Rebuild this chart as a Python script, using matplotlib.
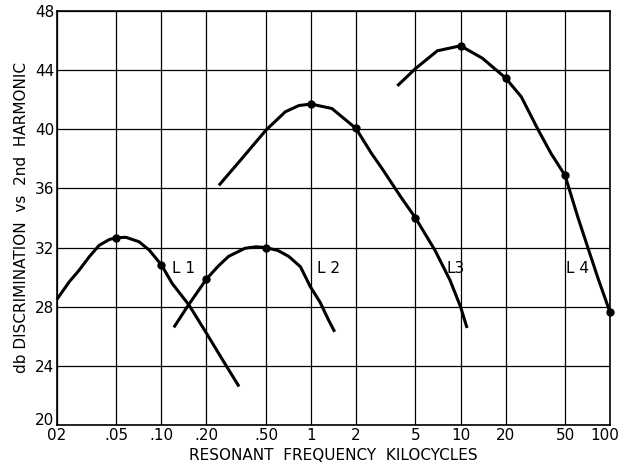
import matplotlib
matplotlib.use('Agg')
import matplotlib.pyplot as plt
import matplotlib.transforms as mtransforms

# curves (freq in kc, db)
l1_f = [0.02, 0.0242, 0.0282, 0.0329, 0.0383, 0.045, 0.05, 0.0578, 0.0708, 0.0827,
        0.10, 0.1177, 0.153, 0.2, 0.26, 0.33]
l1_db = [28.5, 29.69, 30.48, 31.38, 32.15, 32.55, 32.66, 32.69, 32.39, 31.83,
         30.82, 29.58, 28.1, 26.2, 24.3, 22.6]

l2_f = [0.121, 0.15, 0.2, 0.24, 0.281, 0.362, 0.43, 0.5, 0.6, 0.71, 0.85, 0.99, 1.15, 1.31, 1.44]
l2_db = [26.6, 28.05, 29.87, 30.75, 31.4, 31.95, 32.05, 31.99, 31.8, 31.4, 30.7, 29.35, 28.3, 27.1, 26.3]

l3_f = [0.242, 0.346, 0.5, 0.674, 0.83, 1.0, 1.38, 2.0, 2.54, 2.96, 4.0, 5.0, 6.76, 8.5, 10.0, 11.06]
l3_db = [36.2, 38.03, 39.94, 41.18, 41.6, 41.7, 41.4, 40.05, 38.36, 37.4, 35.4, 34.0, 31.8, 29.8, 28.0, 26.56]

l4_f = [3.78, 5.0, 7.0, 10.0, 14.0, 20.0, 25.5, 32.9, 40.3, 50.0, 60.8, 70.8, 82.6, 100.0]
l4_db = [42.93, 44.1, 45.3, 45.64, 44.8, 43.47, 42.19, 40.0, 38.36, 36.88, 34.08, 32.05, 30.0, 27.62]

dot_f = [0.05, 0.10, 0.2, 0.5, 1.0, 2.0, 5.0, 10.0, 20.0, 50.0, 100.0]
dot_db = [32.66, 30.82, 29.87, 31.99, 41.7, 40.05, 34.0, 45.64, 43.47, 36.88, 27.62]

labels = ['L 1', 'L 2', 'L3', 'L 4']
label_f = [0.118, 1.09, 8.0, 50.5]
label_db = [30.6, 30.6, 30.6, 30.6]

xticks = [0.02, 0.05, 0.10, 0.20, 0.50, 1, 2, 5, 10, 20, 50, 100]
xtick_labels = ['02', '.05', '.10', '.20', '.50', '1', '2', '5', '10', '20', '50', '100']
yticks = [20, 24, 28, 32, 36, 40, 44, 48]

plt.rcParams['font.family'] = ['DejaVu Sans']

fig = plt.figure(figsize=(6.2, 4.73), dpi=100)
ax = fig.add_axes([0.0919, 0.1015, 0.892, 0.8755])

ax.set_xscale('log')
ax.set_xlim(0.02, 100)
ax.set_ylim(20, 48)
ax.set_xticks(xticks)
ax.set_xticklabels(xtick_labels)
ax.minorticks_off()
ax.set_yticks(yticks)
ax.tick_params(length=0, labelsize=11, pad=2, colors='black')
ax.grid(True, color='black', linewidth=0.9)
ax.set_axisbelow(True)
for s in ax.spines.values():
    s.set_linewidth(1.2)

# pull the "100" label in a bit so it stays inside the figure
last = ax.get_xticklabels()[-1]
last.set_transform(last.get_transform() +
                   mtransforms.ScaledTranslation(-4 / 72, 0, fig.dpi_scale_trans))
# lift the "20" so it sits above the "02"
first = ax.get_yticklabels()[0]
first.set_transform(first.get_transform() +
                    mtransforms.ScaledTranslation(0, 4 / 72, fig.dpi_scale_trans))

for f, db in [(l1_f, l1_db), (l2_f, l2_db), (l3_f, l3_db), (l4_f, l4_db)]:
    ax.plot(f, db, color='black', linewidth=2.2, solid_joinstyle='round',
            solid_capstyle='butt', clip_on=False)
ax.plot(dot_f, dot_db, 'o', color='black', markersize=5, clip_on=False)

for t, f, db in zip(labels, label_f, label_db):
    ax.text(f, db, t, fontsize=11, ha='left', va='center')

ax.set_xlabel('RESONANT  FREQUENCY  KILOCYCLES', fontsize=11, labelpad=4)
ax.set_ylabel('db DISCRIMINATION  vs  2nd  HARMONIC', fontsize=11, labelpad=4)

fig.savefig('out.png', dpi=100)
